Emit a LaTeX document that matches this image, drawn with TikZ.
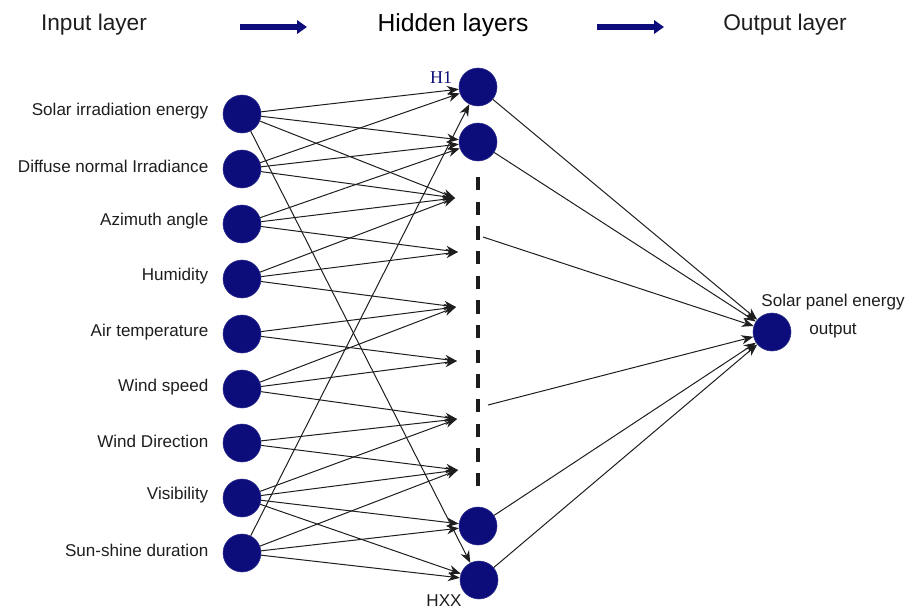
\documentclass[tikz,border=0pt]{standalone}
\usepackage{fontspec}
\setmainfont{Liberation Sans}
\newfontfamily\serifH{Liberation Serif}
\usepackage{xcolor}
\usetikzlibrary{arrows.meta}
\definecolor{nodeblue}{RGB}{12,12,122}
\definecolor{inkgray}{RGB}{30,30,30}
\tikzset{
  neuron/.style={circle, fill=nodeblue, draw=nodeblue!85, minimum size=28.5pt, inner sep=0pt},
  link/.style={-{Stealth[length=9pt,width=7pt]}, line width=0.75pt, inkgray},
  inlabel/.style={anchor=east, text=inkgray, font=\fontsize{12.8}{15}\selectfont},
  header/.style={text=inkgray, font=\fontsize{17}{20}\selectfont},
  bigarrow/.style={nodeblue, line width=5.2pt, -{Triangle[length=7.5pt,width=10pt]}},
}

\begin{document}
\begin{tikzpicture}[x=0.75pt, y=-0.75pt]
  \useasboundingbox (0,0) rectangle (912,611);
  % header row
  \node[header] (hin) at (94,25) {Input layer};
  \node[header, font=\fontsize{18.5}{20}\selectfont, text=black] (hhid) at (453,25) {Hidden layers};
  \node[header] (hout) at (785,25) {Output layer};
  \coordinate (a1s) at (240,27);
  \coordinate (a1e) at (307,27);
  \coordinate (a2s) at (597,27);
  \coordinate (a2e) at (664,27);
  \draw[bigarrow] (a1s) -- (a1e);
  \draw[bigarrow] (a2s) -- (a2e);
  % input neurons
  \node[neuron] (i1) at (242,114) {};
  \node[neuron] (i2) at (242,169) {};
  \node[neuron] (i3) at (242,224) {};
  \node[neuron] (i4) at (242,279) {};
  \node[neuron] (i5) at (242,334) {};
  \node[neuron] (i6) at (242,389) {};
  \node[neuron] (i7) at (242,443) {};
  \node[neuron] (i8) at (242,498) {};
  \node[neuron] (i9) at (242,553) {};
  \node[inlabel] (l1) at (213,111) {Solar irradiation energy};
  \node[inlabel] (l2) at (213,166) {Diffuse normal Irradiance};
  \node[inlabel] (l3) at (213,221) {Azimuth angle};
  \node[inlabel] (l4) at (213,276) {Humidity};
  \node[inlabel] (l5) at (213,332) {Air temperature};
  \node[inlabel] (l6) at (213,387) {Wind speed};
  \node[inlabel] (l7) at (213,441) {Wind Direction};
  \node[inlabel] (l8) at (213,495) {Visibility};
  \node[inlabel] (l9) at (213,550) {Sun-shine duration};
  % hidden neurons
  \node[neuron] (h1) at (478,87) {};
  \node[neuron] (h2) at (478,142) {};
  \node[neuron] (h3) at (478,526) {};
  \node[neuron] (hxx) at (479,580) {};
  \node[text=nodeblue, font=\serifH\fontsize{13.5}{15}\selectfont] (lh1) at (441,78) {H1};
  \node[text=inkgray, font=\fontsize{12.8}{15}\selectfont] (lhxx) at (444,601) {HXX};
  % hidden dots, dashed
  \coordinate (dtop) at (478,177);
  \coordinate (dbot) at (478,492);
  \draw[inkgray!90!black, line width=2.6pt, dash pattern=on 10pt off 8.5pt] (dtop) -- (dbot);
  % free arrow ends on the hidden layer
  \coordinate (f1) at (455,198);
  \coordinate (f2) at (458,252);
  \coordinate (f3) at (456,307);
  \coordinate (f4) at (457,361);
  \coordinate (f5) at (457,419);
  \coordinate (f6) at (458,470);
  \coordinate (d1) at (483,237);
  \coordinate (d2) at (488,405);
  % output neuron
  \node[neuron] (out) at (772,332) {};
  \node[text=inkgray, font=\fontsize{12.8}{15}\selectfont, align=center,
    inner sep=0pt] (lout) at (833,316) {Solar panel energy\\[6pt]output};
  % input -> hidden
  \draw[link] (i1) -- (h1);
  \draw[link] (i1) -- (h2);
  \draw[link] (i1) -- (f1);
  \draw[link] (i1) -- (hxx);
  \draw[link] (i2) -- (h1);
  \draw[link] (i2) -- (h2);
  \draw[link] (i2) -- (f1);
  \draw[link] (i3) -- (h2);
  \draw[link] (i3) -- (f1);
  \draw[link] (i3) -- (f2);
  \draw[link] (i4) -- (f1);
  \draw[link] (i4) -- (f2);
  \draw[link] (i4) -- (f3);
  \draw[link] (i5) -- (f3);
  \draw[link] (i5) -- (f4);
  \draw[link] (i6) -- (f3);
  \draw[link] (i6) -- (f4);
  \draw[link] (i6) -- (f5);
  \draw[link] (i7) -- (f5);
  \draw[link] (i7) -- (f6);
  \draw[link] (i8) -- (f5);
  \draw[link] (i8) -- (f6);
  \draw[link] (i8) -- (h3);
  \draw[link] (i8) -- (hxx);
  \draw[link] (i9) -- (h1);
  \draw[link] (i9) -- (f6);
  \draw[link] (i9) -- (h3);
  \draw[link] (i9) -- (hxx);
  % hidden -> output
  \draw[link] (h1) -- (out);
  \draw[link] (h2) -- (out);
  \draw[link] (d1) -- (out);
  \draw[link] (d2) -- (out);
  \draw[link] (h3) -- (out);
  \draw[link] (hxx) -- (out);
\end{tikzpicture}
\end{document}
